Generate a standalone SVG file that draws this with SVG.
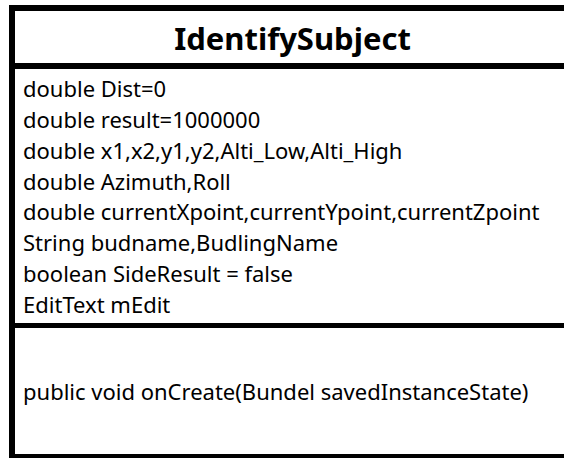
<svg xmlns="http://www.w3.org/2000/svg" width="564" height="458" viewBox="0 0 564 458">
<style>
.frame{fill:#fff;stroke:#000;stroke-width:6}
.sep{stroke:#000;stroke-width:6}
.title{font-family:"Noto Sans","Open Sans",sans-serif;font-weight:bold;font-size:31px;fill:#000}
.attr{font-family:"Noto Sans","Open Sans",sans-serif;font-size:22px;fill:#000}
</style>
<rect width="564" height="458" fill="#fff"/>
<g id="IdentifySubject">
<rect class="frame" x="12" y="8" width="570" height="449"/>
<line class="sep" x1="12" y1="66" x2="570" y2="66"/>
<line class="sep" x1="12" y1="325.5" x2="570" y2="325.5" style="stroke-width:5"/>
<text class="title" x="292.5" y="50" text-anchor="middle">IdentifySubject</text>
<text class="attr" x="23" y="97">double Dist=0</text>
<text class="attr" x="23" y="127.9">double result=1000000</text>
<text class="attr" x="23" y="158.7">double x1,x2,y1,y2,Alti_Low,Alti_High</text>
<text class="attr" x="23" y="189.6">double Azimuth,Roll</text>
<text class="attr" x="23" y="220.4">double currentXpoint,currentYpoint,currentZpoint</text>
<text class="attr" x="23" y="251.3">String budname,BudlingName</text>
<text class="attr" x="23" y="282.1">boolean SideResult = false</text>
<text class="attr" x="23" y="313">EditText mEdit</text>
<text class="attr" x="23" y="400">public void onCreate(Bundel savedInstanceState)</text>
</g>
</svg>
